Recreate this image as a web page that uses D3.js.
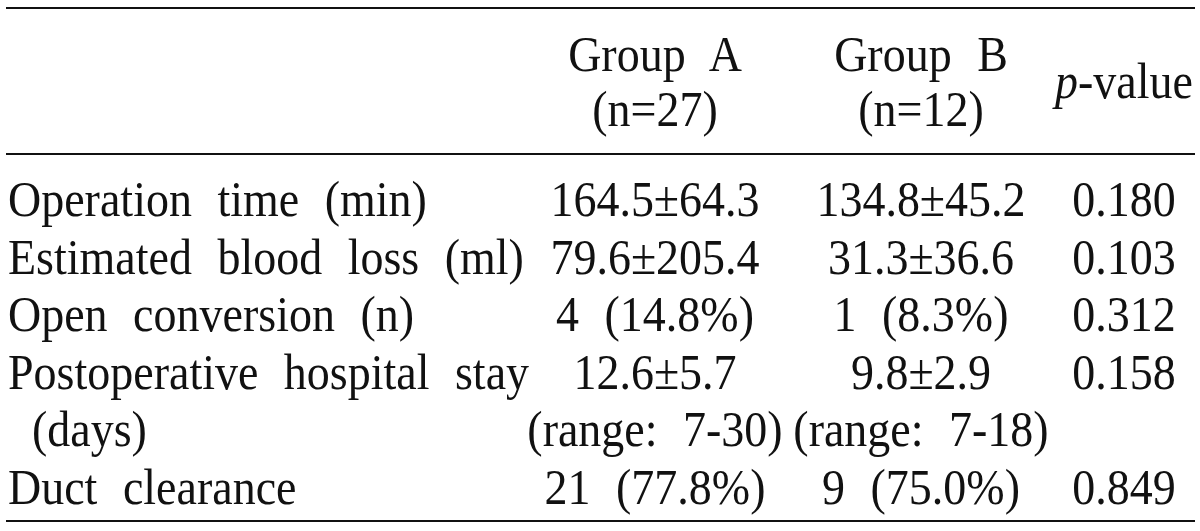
<!DOCTYPE html>
<html>
<head>
<meta charset="utf-8">
<script src="https://cdn.jsdelivr.net/npm/d3@7"></script>
<style>
  html, body { margin: 0; padding: 0; background: #fff; }
  svg { display: block; }
  text { font-family: "Liberation Serif", "Times New Roman", serif; font-size: 46px; fill: #111; word-spacing: 14px; }
</style>
</head>
<body>
<script>
// ---- data ----
const columnKeys = ["label", "A", "B", "p"];
const headerA = ["Group A", "(n=27)"];
const headerB = ["Group B", "(n=12)"];
const headerP = ["p", "-value"];
const rowLabels = [
  ["Operation time (min)"],
  ["Estimated blood loss (ml)"],
  ["Open conversion (n)"],
  ["Postoperative hospital stay", "(days)"],
  ["Duct clearance"]
];
const groupA = [
  ["164.5±64.3"],
  ["79.6±205.4"],
  ["4 (14.8%)"],
  ["12.6±5.7", "(range: 7-30)"],
  ["21 (77.8%)"]
];
const groupB = [
  ["134.8±45.2"],
  ["31.3±36.6"],
  ["1 (8.3%)"],
  ["9.8±2.9", "(range: 7-18)"],
  ["9 (75.0%)"]
];
const pValues = ["0.180", "0.103", "0.312", "0.158", "0.849"];

// ---- layout ----
const W = 1200, H = 531;
const SY = 1.12; // vertical glyph stretch
const svg = d3.select("body").append("svg").attr("width", W).attr("height", H);

const x = d3.scaleOrdinal().domain(columnKeys).range([8, 655, 921, 1124]);
// line index -> baseline
const y = d3.scaleLinear().domain([0, 1]).range([216, 273.5]);
const hy = d3.scaleLinear().domain([0, 1]).range([71, 126]);

function place(sel, fx, fy) {
  return sel.attr("transform", (d, i) => `translate(${fx(d, i)},${fy(d, i)}) scale(1,${SY})`);
}

// rules
const rules = [8, 154, 521];
svg.selectAll("line.rule").data(rules).join("line")
  .attr("class", "rule")
  .attr("x1", 6).attr("x2", 1195)
  .attr("y1", d => d).attr("y2", d => d)
  .attr("stroke", "#111").attr("stroke-width", 2.2);

// header
[[headerA, "A"], [headerB, "B"]].forEach(([lines, key]) => {
  place(svg.selectAll(null).data(lines).join("text"), () => x(key), (d, i) => hy(i))
    .attr("text-anchor", "middle")
    .text(d => d);
});
const pt = svg.append("text")
  .attr("transform", `translate(${x("p")},98) scale(1,${SY})`)
  .attr("text-anchor", "middle");
pt.append("tspan").attr("font-style", "italic").text(headerP[0]);
pt.append("tspan").text(headerP[1]);

// rows
let lineIdx = 0;
const rows = rowLabels.map((lab, i) => {
  const r = { i, start: lineIdx, label: lab, a: groupA[i], b: groupB[i], p: pValues[i] };
  lineIdx += lab.length;
  return r;
});

rows.forEach(r => {
  place(svg.selectAll(null).data(r.label).join("text"),
        (d, j) => x("label") + (j > 0 ? 24 : 0), (d, j) => y(r.start + j))
    .text(d => d);
  place(svg.selectAll(null).data(r.a).join("text"), () => x("A"), (d, j) => y(r.start + j))
    .attr("text-anchor", "middle").text(d => d);
  place(svg.selectAll(null).data(r.b).join("text"), () => x("B"), (d, j) => y(r.start + j))
    .attr("text-anchor", "middle").text(d => d);
  place(svg.selectAll(null).data([r.p]).join("text"), () => x("p"), () => y(r.start))
    .attr("text-anchor", "middle").text(d => d);
});
</script>
</body>
</html>
